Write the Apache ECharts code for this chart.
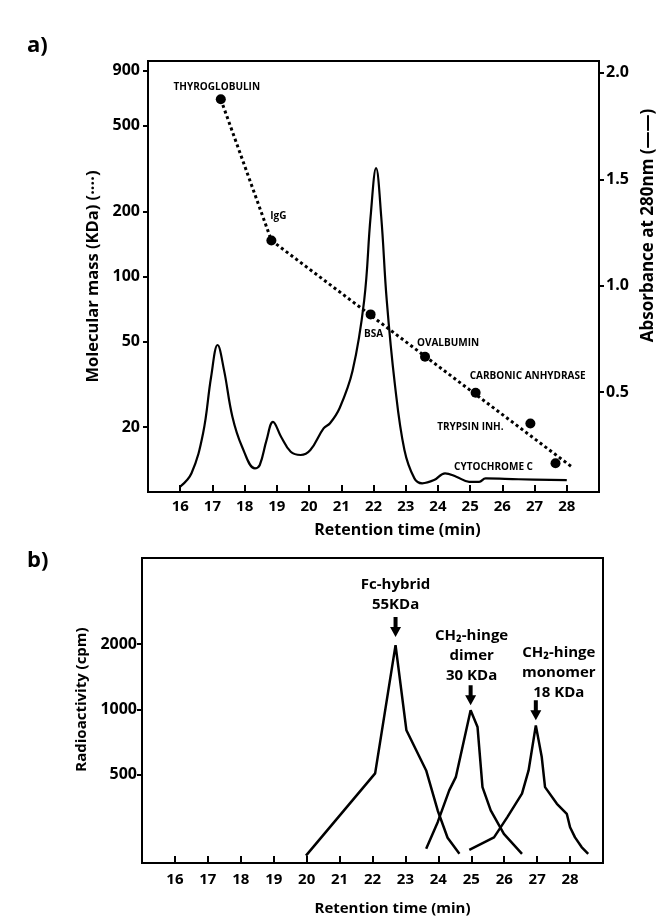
<!DOCTYPE html>
<html><head><meta charset="utf-8">
<script src="https://cdn.jsdelivr.net/npm/echarts@6/dist/echarts.min.js"></script>
<style>html,body{margin:0;padding:0;background:#fff}#c{width:665px;height:921px}</style>
</head><body><div id="c"></div>
<script>
// ---- tick labels ----
const timeTicks = [16,17,18,19,20,21,22,23,24,25,26,27,28];
const massTicks = [20,50,100,200,500,900];
const absTicks = [0.5,1.0,1.5,2.0];
const cpmTicks = [500,1000,2000];

// ---- panel a: absorbance trace (retention time, A280) ----
const absTime  = [16.0,16.35,16.71,16.96,17.16,17.36,17.62,17.92,18.32,18.47,18.68,18.88,19.13,19.43,19.74,20.04,20.45,20.65,20.95,21.35,21.71,21.91,22.08,22.24,22.41,22.66,22.96,23.27,23.51,23.88,24.22,24.57,24.97,25.28,25.48,26.5,28.0];
const absValue = [0.055,0.118,0.306,0.572,0.721,0.603,0.384,0.243,0.141,0.157,0.274,0.360,0.290,0.219,0.204,0.227,0.329,0.353,0.425,0.600,0.930,1.324,1.552,1.324,0.933,0.541,0.227,0.094,0.071,0.086,0.118,0.102,0.078,0.078,0.094,0.090,0.086];

// ---- panel a: molecular mass standards ----
const stdNames = ['THYROGLOBULIN','IgG','BSA','OVALBUMIN','CARBONIC ANHYDRASE','TRYPSIN INH.','CYTOCHROME C'];
const stdTime  = [17.26,18.83,21.91,23.60,25.17,26.87,27.65];
const stdMass  = [664,147,66.7,42.4,28.9,20.8,13.6];
// calibration line (dotted)
const fitTime = [17.26,18.83,28.18];
const fitMass = [664,147,13.0];

// ---- panel b: radioactivity profiles ----
const fcTime  = [19.98,22.08,22.70,23.03,23.63,23.98,24.28,24.64];
const fcCpm   = [211,506,1980,800,522,341,255,215];
const dimTime = [23.63,23.98,24.33,24.53,24.98,25.19,25.34,25.59,25.99,26.54];
const dimCpm  = [227,301,422,486,990,828,437,341,266,215];
const monTime = [24.94,25.69,26.09,26.54,26.74,26.96,27.14,27.24,27.60,27.90,28.0,28.15,28.35,28.55];
const monCpm  = [224,256,317,408,522,843,602,437,366,329,285,256,231,215];
const peakLabels = ['Fc-hybrid\n55KDa','CH\u2082-hinge\ndimer\n30 KDa','CH\u2082-hinge\nmonomer\n18 KDa'];

// ---- styling (kept separate from data) ----
const F = '"Open Sans", Lato, sans-serif';
const stdLabelOffset = [[-4,-12],[7,-24],[3,20],[23,-14],[52,-17],[-60,4],[-62,4]];
const arrowOffset = [-18,-15,-15];
const peakLabelOffset = [[0,0],[1,2],[23,4]];
const arrowPath = 'path://M3.5,0 L7.5,0 L7.5,10 L11,10 L5.5,20 L0,10 L3.5,10 Z';

const zip = (a,b) => a.map((v,i)=>[v,b[i]]);
const axisLine = {show:true, lineStyle:{color:'#000', width:2}};
const tickStyle = {color:'#000', width:2};
const lblStyle = {color:'#000', fontWeight:'bold', fontFamily:F};

function xAxis(grid, gap, pad, margin, fs){
  return {
    gridIndex:grid, type:'value', min:15, max:29,
    axisLine: axisLine,
    axisTick:{show:true, inside:true, length:7, lineStyle:tickStyle, customValues:timeTicks},
    axisLabel:Object.assign({customValues:timeTicks, fontSize:15, margin:margin}, lblStyle),
    splitLine:{show:false},
    name:'Retention time (min)', nameLocation:'middle', nameGap:gap,
    nameTextStyle:Object.assign({fontSize:fs, padding:[0,0,0,pad]}, lblStyle)
  };
}

function peakSeries(t, v, i){
  return {
    type:'line', xAxisIndex:1, yAxisIndex:2, data:zip(t,v),
    showSymbol:false, symbol:'none', lineStyle:{color:'#000', width:2.5}, silent:true,
    markPoint:{
      symbol:arrowPath, symbolSize:[11,20], symbolOffset:[0,arrowOffset[i]],
      itemStyle:{color:'#000'},
      label:Object.assign({show:true, position:'top', distance:2, offset:peakLabelOffset[i], formatter:peakLabels[i], fontSize:15, lineHeight:20, align:'center'}, lblStyle),
      data:[{type:'max'}]
    }
  };
}

const chart = echarts.init(document.getElementById('c'), null, {renderer:'canvas'});
chart.setOption({
  animation:false,
  backgroundColor:'#fff',
  title:[
    {text:'a)', left:22, top:30, textStyle:{fontSize:22, fontWeight:'bold', color:'#000', fontFamily:F}},
    {text:'b)', left:22, top:545, textStyle:{fontSize:22, fontWeight:'bold', color:'#000', fontFamily:F}}
  ],
  grid:[
    {left:148, right:55, top:61, height:431, show:true, borderColor:'#000', borderWidth:2, backgroundColor:'transparent'},
    {left:142, right:62, top:558, height:305, show:true, borderColor:'#000', borderWidth:2, backgroundColor:'transparent'}
  ],
  xAxis:[ xAxis(0, 30, 48, 7, 16), xAxis(1, 38, 40, 9, 15) ],
  yAxis:[
    {gridIndex:0, type:'log', logBase:10, min:10, max:1000, position:'left',
     axisLine:axisLine,
     axisTick:{show:true, length:5, lineStyle:tickStyle, customValues:massTicks},
     axisLabel:Object.assign({customValues:massTicks, fontSize:16, margin:8, formatter:v=>String(v)}, lblStyle),
     splitLine:{show:false}, minorTick:{show:false},
     name:'Molecular mass (KDa) (\u00b7\u00b7\u00b7\u00b7)', nameLocation:'middle', nameGap:38, nameRotate:90,
     nameTextStyle:Object.assign({fontSize:16.5}, lblStyle)},
    {gridIndex:0, type:'value', min:0.03, max:2.056, position:'right',
     axisLine:axisLine,
     axisTick:{show:true, length:5, lineStyle:tickStyle, customValues:absTicks},
     axisLabel:Object.assign({customValues:absTicks, fontSize:16, margin:7, formatter:v=>v.toFixed(1)}, lblStyle),
     splitLine:{show:false},
     name:'Absorbance at 280nm (\u2014\u2014)', nameLocation:'middle', nameGap:41, nameRotate:90,
     nameTextStyle:Object.assign({fontSize:17, padding:[0,0,0,102]}, lblStyle)},
    {gridIndex:1, type:'log', logBase:10, min:195, max:5000, position:'left',
     axisLine:axisLine,
     axisTick:{show:true, length:5, lineStyle:tickStyle, customValues:cpmTicks},
     axisLabel:Object.assign({customValues:cpmTicks, fontSize:16, margin:5, formatter:v=>String(v)}, lblStyle),
     splitLine:{show:false}, minorTick:{show:false},
     name:'Radioactivity (cpm)', nameLocation:'middle', nameGap:50, nameRotate:90,
     nameTextStyle:Object.assign({fontSize:15, padding:[0,0,0,22]}, lblStyle)}
  ],
  series:[
    {type:'line', xAxisIndex:0, yAxisIndex:1, data:zip(absTime,absValue), smooth:0.4,
     showSymbol:false, symbol:'none', lineStyle:{color:'#000', width:2.2}, silent:true},
    {type:'line', xAxisIndex:0, yAxisIndex:0, data:zip(fitTime,fitMass),
     showSymbol:false, symbol:'none', lineStyle:{color:'#000', width:3, type:[3,3]}, silent:true},
    {type:'scatter', xAxisIndex:0, yAxisIndex:0, symbolSize:10, itemStyle:{color:'#000', opacity:1}, silent:true,
     data: stdTime.map((t,i)=>({value:[t,stdMass[i]], name:stdNames[i],
       label:{show:true, position:'inside', offset:stdLabelOffset[i], formatter:stdNames[i],
              fontSize:10, fontWeight:'bold', color:'#000', fontFamily:F}}))},
    peakSeries(fcTime, fcCpm, 0),
    peakSeries(dimTime, dimCpm, 1),
    peakSeries(monTime, monCpm, 2)
  ]
});
</script></body></html>
